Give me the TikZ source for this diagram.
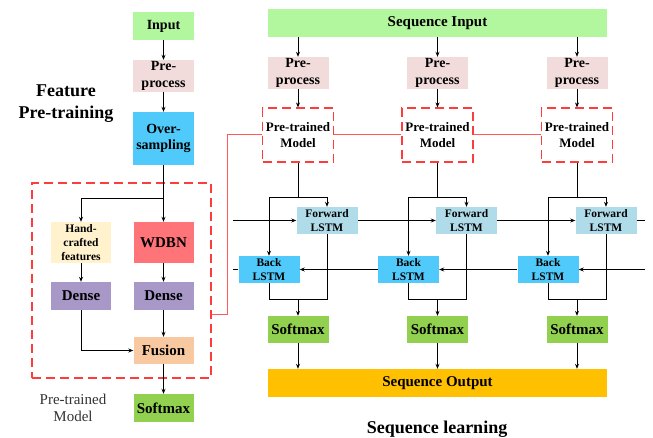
\documentclass[tikz,border=0pt]{standalone}
\usepackage{fontspec}
\setmainfont{Liberation Serif}
\usetikzlibrary{arrows.meta}
\definecolor{cgreen}{RGB}{178,247,157}
\definecolor{cpre}{RGB}{242,220,219}
\definecolor{cblue}{RGB}{80,202,250}
\definecolor{clblue}{RGB}{176,220,234}
\definecolor{chand}{RGB}{255,242,204}
\definecolor{cwdbn}{RGB}{255,116,120}
\definecolor{cdense}{RGB}{167,152,200}
\definecolor{cfusion}{RGB}{248,200,160}
\definecolor{csoft}{RGB}{146,208,80}
\definecolor{cout}{RGB}{255,192,0}
\definecolor{cred}{RGB}{255,60,60}
\tikzset{
  box/.style={draw=none, inner sep=0pt, align=center, font=\bfseries},
  f15/.style={font=\fontsize{15}{17}\selectfont\bfseries},
  f14/.style={font=\fontsize{14}{16.5}\selectfont\bfseries},
  f13/.style={font=\fontsize{13}{15.5}\selectfont\bfseries},
  f12/.style={font=\fontsize{11.5}{14}\selectfont\bfseries},
  arr/.style={line width=0.9pt, -{Stealth[length=5pt,width=4pt]}},
  ln/.style={line width=0.9pt},
  dashbox/.style={draw=cred, line width=1.1pt, dash pattern=on 9pt off 5pt, inner sep=0pt},
  redln/.style={draw=cred!85, line width=1pt},
}
\begin{document}
\begin{tikzpicture}[x=1pt,y=-1pt]
\useasboundingbox (0,0) rectangle (653,438);
% ---------- left column ----------
\node[box,f14,fill=cgreen,minimum width=61,minimum height=28] (in) at (163.5,26) {Input};
\node[box,f14,fill=cpre,minimum width=61,minimum height=32] (lpp) at (163.5,76) {Pre-\\process};
\node[box,f14,fill=cblue,minimum width=61,minimum height=53] (os) at (163.5,138.5) {Over-\\sampling};
\node[dashbox,minimum width=179,minimum height=195] (dbox) at (121.5,280.5) {};
\node[box,f12,fill=chand,minimum width=60,minimum height=41] (hc) at (81,242.5) {Hand-\\crafted\\features};
\node[box,f15,fill=cwdbn,minimum width=60,minimum height=41] (wdbn) at (163.5,242.5) {WDBN};
\node[box,f15,fill=cdense,minimum width=60,minimum height=28] (d1) at (81,296) {Dense};
\node[box,f15,fill=cdense,minimum width=60,minimum height=28] (d2) at (163.5,296) {Dense};
\node[box,f15,fill=cfusion,minimum width=60,minimum height=27] (fu) at (163.5,350.5) {Fusion};
\node[box,f15,fill=csoft,minimum width=60,minimum height=28] (lsm) at (163.5,408) {Softmax};
\node[align=center,inner sep=0pt,font=\fontsize{18}{22}\selectfont\bfseries] (fpt) at (66,104) {Feature\\Pre-training};
\node[align=center,inner sep=0pt,text=black!80,font=\fontsize{15}{17.5}\selectfont] (ptm) at (73,408) {Pre-trained\\Model};
\coordinate (lj) at (163.5,198);
\draw[arr] (in) -- (lpp);
\draw[arr] (lpp) -- (os);
\draw[arr] (os) -- (wdbn);
\draw[arr] (lj) -| (hc.north);
\draw[arr] (hc) -- (d1);
\draw[arr] (wdbn) -- (d2);
\draw[arr] (d2) -- (fu);
\draw[arr] (d1.south) |- (fu.west);
\draw[arr] (fu) -- (lsm);
% ---------- right part ----------
\node[box,f15,fill=cgreen,minimum width=339,minimum height=28] (si) at (437.5,23) {Sequence Input};
\node[box,f15,fill=cout,minimum width=339,minimum height=28] (so) at (437.5,383) {Sequence Output};
\node[inner sep=0pt,font=\fontsize{18}{22}\selectfont\bfseries] (sl) at (437,429) {Sequence learning};
\foreach \i/\c in {1/298,2/437.5,3/577}{
  \node[box,f14,fill=cpre,minimum width=61,minimum height=32] (pp\i) at (\c,73) {Pre-\\process};
  \node[dashbox,align=center,f13,minimum width=71,minimum height=54] (pt\i) at (\c,135) {Pre-trained\\Model};
  \node[box,f12,fill=clblue,minimum width=61,minimum height=27] (fw\i) at (\c+29,220.5) {Forward\\LSTM};
  \node[box,f12,fill=cblue,minimum width=61,minimum height=27] (bk\i) at (\c-29,269.5) {Back\\LSTM};
  \node[box,f15,fill=csoft,minimum width=61,minimum height=27] (sm\i) at (\c,329.5) {Softmax};
  \coordinate (j\i) at (\c,197);
  \coordinate (m\i) at (\c,299);
  \draw[arr] (pp\i |- si.south) -- (pp\i.north);
  \draw[arr] (pp\i) -- (pt\i);
  \draw[ln] (pt\i.south) -- (j\i);
  \draw[arr] (j\i) -| (fw\i.north);
  \draw[arr] (j\i) -| (bk\i.north);
  \draw[ln] (bk\i.south) |- (fw\i.south |- m\i) -- (fw\i.south);
  \draw[arr] (m\i) -- (sm\i.north);
  \draw[arr] (sm\i.south) -- (sm\i.south |- so.north);
}
\coordinate (fin) at (233,220.5);
\coordinate (fout) at (645,220.5);
\coordinate (bin) at (645,269.5);
\coordinate (bout) at (233,269.5);
\draw[arr] (fin) -- (fw1.west);
\draw[arr] (fw1.east) -- (fw2.west);
\draw[arr] (fw2.east) -- (fw3.west);
\draw[ln] (fw3.east) -- (fout);
\draw[arr] (bin) -- (bk3.east);
\draw[arr] (bk3.west) -- (bk2.east);
\draw[arr] (bk2.west) -- (bk1.east);
\draw[ln] (bk1.west) -- (bout);
% red connections
\coordinate (rc) at (227,314);
\draw[redln] (dbox.east |- rc) -- (rc) |- (pt1.west);
\draw[redln] (pt1.east) -- (pt2.west);
\draw[redln] (pt2.east) -- (pt3.west);
\end{tikzpicture}
\end{document}
